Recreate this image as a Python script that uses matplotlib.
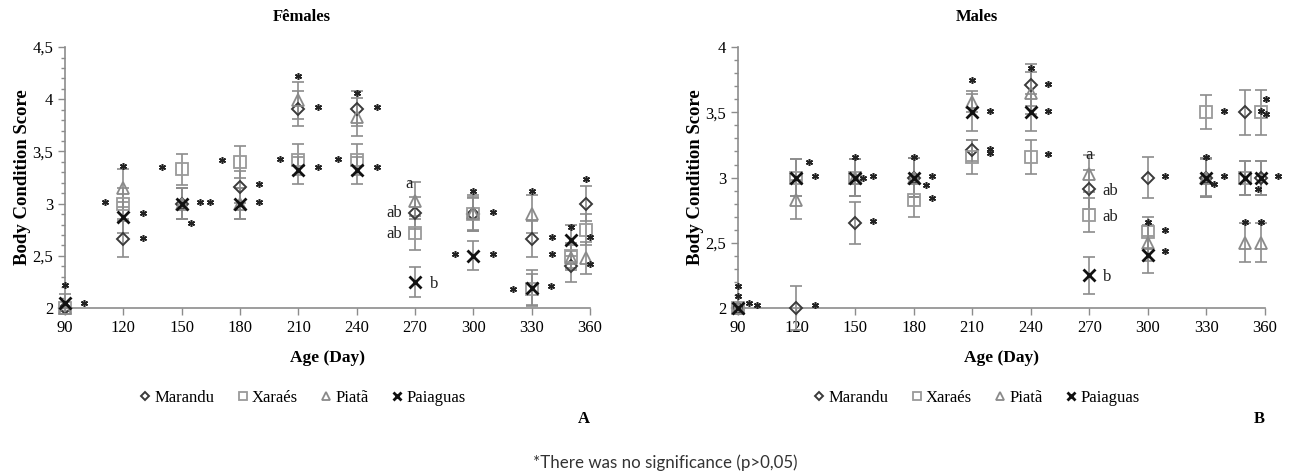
import numpy as np
import matplotlib
matplotlib.use("Agg")
from matplotlib import pyplot as plt
from matplotlib.ticker import MultipleLocator, FuncFormatter

plt.rcParams['font.family'] = ['Liberation Serif', 'DejaVu Serif']

days = [90, 120, 150, 180, 210, 240, 270, 300, 330, 350, 358]
tick_days = [90, 120, 150, 180, 210, 240, 270, 300, 330, 360]
names = ['Marandu', 'Xaraés', 'Piatã', 'Paiaguas']

# females
f_marandu = [2.00, 2.66, 3.00, 3.16, 3.91, 3.91, 2.91, 2.90, 2.66, 2.40, 3.00]
f_xaraes = [2.00, 3.00, 3.33, 3.40, 3.42, 3.42, 2.72, 2.90, 2.18, 2.50, 2.75]
f_piata = [2.00, 3.15, 3.00, 3.00, 3.99, 3.83, 3.03, 2.91, 2.90, 2.48, 2.48]
f_paiaguas = [2.05, 2.87, 3.00, 3.00, 3.32, 3.32, 2.25, 2.50, 2.19, 2.65, np.nan]
f_marandu_se = [0, 0.17, 0.15, 0.15, 0.17, 0.17, 0.15, 0.16, 0.17, 0.15, 0.17]
f_xaraes_se = [0, 0.15, 0.15, 0.15, 0.15, 0.15, 0.16, 0.15, 0.15, 0.12, 0.15]
f_piata_se = [0, 0.18, 0.15, 0.15, 0.18, 0.18, 0.18, 0.17, 0.18, 0.12, 0.15]
f_paiaguas_se = [0.08, 0.15, 0.15, 0.15, 0.13, 0.13, 0.14, 0.14, 0.17, 0.15, 0]

# males
m_marandu = [2.00, 2.00, 2.65, 3.00, 3.21, 3.71, 2.91, 3.00, 3.00, 3.50, 3.00]
m_xaraes = [2.00, 3.00, 3.00, 2.83, 3.16, 3.16, 2.71, 2.58, 3.50, 3.00, 3.50]
m_piata = [2.00, 2.83, 3.00, 3.00, 3.58, 3.65, 3.03, 2.50, 3.00, 2.50, 2.50]
m_paiaguas = [2.00, 3.00, 3.00, 3.00, 3.50, 3.50, 2.25, 2.41, 3.00, 3.00, 3.00]
m_marandu_se = [0, 0.17, 0.16, 0.15, 0.08, 0.16, 0.15, 0.16, 0.15, 0.17, 0.13]
m_xaraes_se = [0, 0.14, 0.14, 0.13, 0.13, 0.13, 0.13, 0.12, 0.13, 0.13, 0.17]
m_piata_se = [0, 0.15, 0.14, 0.15, 0.08, 0.16, 0.14, 0.14, 0.14, 0.15, 0.15]
m_paiaguas_se = [0, 0.14, 0.14, 0.15, 0.14, 0.14, 0.14, 0.14, 0.15, 0.13, 0.13]

# "no significance" asterisks (day, score)
f_stars = [(90, 2.22), (100, 2.05), (110.6, 3.02), (120, 3.36), (130, 2.91), (130, 2.67),
           (140, 3.35), (159.5, 3.02), (164.6, 3.02), (155, 2.81), (170.6, 3.42),
           (190, 3.19), (190, 3.02), (210, 4.22), (200.6, 3.43), (220, 3.93), (220, 3.35),
           (240, 4.06), (250.3, 3.93), (250.3, 3.35), (230.4, 3.43), (300, 3.12),
           (310, 2.92), (290.6, 2.52), (310, 2.52), (330, 3.12), (340.3, 2.68),
           (340.3, 2.52), (320.4, 2.18), (340, 2.21), (350, 2.78), (358, 3.24),
           (360, 2.68), (360, 2.42)]
m_stars = [(90, 2.17), (90, 2.09), (95.7, 2.04), (99.6, 2.02), (126.4, 3.12), (129.5, 3.01),
           (129.5, 2.02), (150, 3.16), (154, 3.0), (159, 3.01), (159, 2.67), (180, 3.16),
           (186.3, 2.94), (189.4, 3.01), (189.4, 2.84), (210, 3.75), (219.4, 3.51),
           (219.4, 3.22), (219.4, 3.19), (240, 3.84), (249, 3.72), (249, 3.51), (249, 3.18),
           (300, 2.66), (309, 3.01), (309, 2.60), (309, 2.44), (330, 3.16), (339, 3.51),
           (333.8, 2.95), (339, 3.01), (350, 2.66), (358, 2.66), (360.7, 3.60),
           (360.7, 3.49), (358, 3.51), (366.6, 3.01), (356.2, 2.91)]

# letters at day 270 (text, day, score, ha)
f_letters = [('a', 269, 3.19, 'right'), ('ab', 263.5, 2.91, 'right'),
             ('ab', 263.5, 2.71, 'right'), ('b', 277.5, 2.23, 'left')]
m_letters = [('a', 270, 3.17, 'center'), ('ab', 276.5, 2.90, 'left'),
             ('ab', 276.5, 2.70, 'left'), ('b', 277, 2.24, 'left')]

styles = [
    dict(marker='D', ms=6.5, mfc='none', mec='#3a3a3a', mew=1.4),
    dict(marker='s', ms=8, mfc='none', mec='#9a9a9a', mew=1.3),
    dict(marker='^', ms=8.5, mfc='none', mec='#8a8a8a', mew=1.3),
    dict(marker='x', ms=8.5, mfc='none', mec='#111111', mew=2.0),
]
err_col = '#8c8c8c'

fig = plt.figure(figsize=(12.9, 4.71), dpi=100)
ax1 = fig.add_axes([0.0504, 0.346, 0.407, 0.554])
ax2 = fig.add_axes([0.572, 0.346, 0.4086, 0.554])


def comma(v, pos):
    s = ('%g' % v)
    return s.replace('.', ',')


def panel(ax, series, errs, stars, letters, ymax, tag):
    for i in range(4):
        ax.errorbar(days, series[i], yerr=errs[i], ls='none', ecolor=err_col,
                    elinewidth=1.2, capsize=4, capthick=1.2, clip_on=False, zorder=2)
    for i in range(4):
        ax.plot(days, series[i], ls='none', label=names[i], clip_on=False,
                zorder=3 + i, **styles[i])
    sx = [p[0] for p in stars]
    sy = [p[1] for p in stars]
    ax.plot(sx, sy, ls='none', marker=(6, 2, 0), ms=5, mew=1.1, color='#222222',
            clip_on=False, zorder=8)
    for t, x, y, ha in letters:
        ax.text(x, y, t, ha=ha, va='center', fontsize=12, color='#222222')

    ax.set_xlim(90, 360)
    ax.set_ylim(2, ymax)
    ax.set_xticks(tick_days)
    ax.yaxis.set_major_locator(MultipleLocator(0.5))
    ax.yaxis.set_minor_locator(MultipleLocator(0.1))
    ax.yaxis.set_major_formatter(FuncFormatter(comma))
    for s in ['top', 'right']:
        ax.spines[s].set_visible(False)
    for s in ['left', 'bottom']:
        ax.spines[s].set_color('#8c8c8c')
        ax.spines[s].set_linewidth(1.2)
    ax.tick_params(axis='both', which='major', length=5, color='#8c8c8c',
                   labelsize=12, width=1)
    ax.tick_params(axis='y', which='minor', length=3, color='#8c8c8c', width=1)
    ax.set_xlabel('Age (Day)', fontsize=12.5, fontweight='bold', labelpad=10)
    ax.set_ylabel('Body Condition Score', fontsize=13.5, fontweight='bold', labelpad=1)
    ax.legend(loc='center', bbox_to_anchor=(0.45, -0.345), ncol=4, frameon=False,
              fontsize=12, handletextpad=0.05, columnspacing=1.2, handlelength=1.0,
              markerscale=0.7)
    ax.text(1.0, -0.425, tag, transform=ax.transAxes, ha='right', va='center',
            fontsize=12, fontweight='bold')


panel(ax1, [f_marandu, f_xaraes, f_piata, f_paiaguas],
      [f_marandu_se, f_xaraes_se, f_piata_se, f_paiaguas_se],
      f_stars, f_letters, 4.5, 'A')
panel(ax2, [m_marandu, m_xaraes, m_piata, m_paiaguas],
      [m_marandu_se, m_xaraes_se, m_piata_se, m_paiaguas_se],
      m_stars, m_letters, 4.0, 'B')

fig.text(302 / 1290, 1 - 17 / 471, 'Fêmales', ha='center', va='center',
         fontsize=12, fontweight='bold')
fig.text(977 / 1290, 1 - 17 / 471, 'Males', ha='center', va='center',
         fontsize=12, fontweight='bold')

fig.text(665 / 1290, 1 - 463 / 471, '*There was no significance (p>0,05)', ha='center',
         va='center', fontsize=12.2, family=['Lato', 'DejaVu Sans'], color='#333333')

fig.savefig('out.png', dpi=100)
